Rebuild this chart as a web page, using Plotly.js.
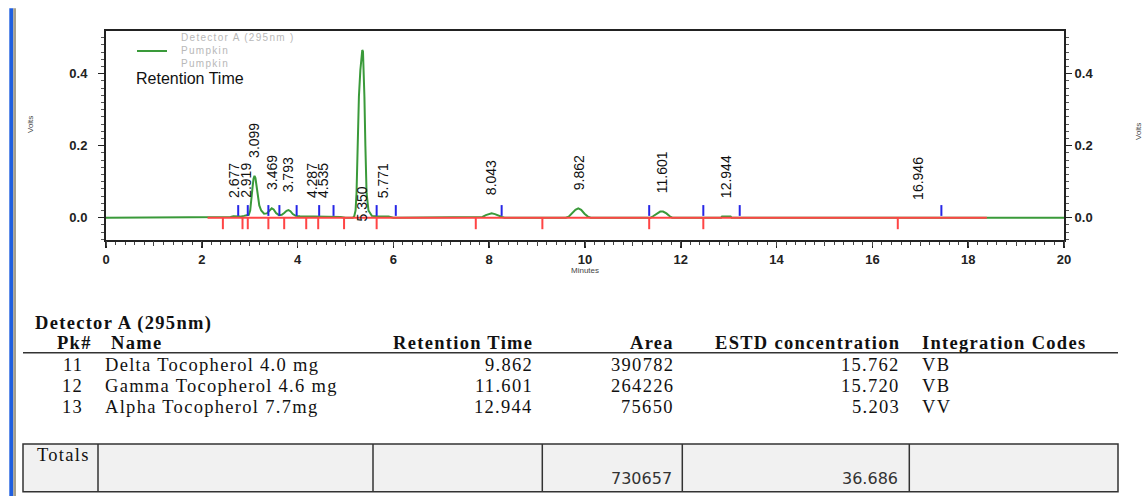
<!DOCTYPE html>
<html><head><meta charset="utf-8">
<script src="https://cdn.plot.ly/plotly-3.0.1.min.js"></script>
<style>
html,body{margin:0;padding:0;background:#fff;overflow:hidden}
#chart{width:1145px;height:496px}
text[style*="Liberation Serif"]{letter-spacing:1.3px}
text[style*="LegendGrey"]{letter-spacing:1.3px}
</style>
</head><body><div id="chart"></div>
<script>
// ---------- chromatogram data ----------
const timeMin = [0,2.55,2.60,2.66,2.72,2.80,2.88,2.93,2.98,3.01,3.04,3.06,3.08,3.10,3.12,3.14,3.17,3.20,3.24,3.30,3.36,3.41,3.46,3.50,3.55,3.61,3.67,3.72,3.77,3.81,3.85,3.90,3.96,4.05,4.30,4.55,4.80,4.90,5.00,5.15,5.18,5.21,5.23,5.255,5.28,5.31,5.335,5.35,5.365,5.38,5.395,5.415,5.44,5.48,5.55,5.65,5.90,6.00,7.80,7.86,7.93,8.00,8.05,8.12,8.20,8.27,8.32,9.60,9.66,9.73,9.80,9.86,9.92,9.99,10.06,10.12,11.37,11.42,11.50,11.57,11.63,11.70,11.77,11.82,12.84,12.86,13.04,13.06,20];
const signalV = [0,0,0.002,0.004,0.003,0.003,0.005,0.006,0.008,0.02,0.05,0.085,0.108,0.116,0.11,0.09,0.055,0.034,0.02,0.011,0.012,0.02,0.026,0.023,0.013,0.007,0.008,0.013,0.019,0.021,0.018,0.01,0.005,0.004,0.004,0.004,0.004,0.002,0,0,0.003,0.02,0.068,0.2,0.336,0.41,0.46,0.466,0.462,0.42,0.336,0.2,0.068,0.02,0.005,0.004,0.003,0,0,0.002,0.007,0.011,0.012,0.01,0.005,0.002,0,0,0.003,0.012,0.022,0.026,0.022,0.011,0.003,0,0,0.004,0.012,0.017,0.017,0.012,0.004,0,0,0.003,0.003,0,0];

const peakLabels = ['2.677','2.919','3.099','3.469','3.793','4.287','4.535','5.350','5.771','8.043','9.862','11.601','12.944','16.946'];
const peakApexV  = [0.004,0.006,0.116,0.026,0.021,0.004,0.004,0.466,0.004,0.012,0.026,0.017,0.003,0];
const labelAtBaseline = ['5.350'];

const baselineStartMin = 2.12, baselineEndMin = 18.39;
const peakStartEndMarks = [2.44,2.85,2.96,3.39,3.72,4.18,4.43,4.97,5.65,7.72,9.11,11.34,12.47,16.53];
const peakEventMarks    = [2.76,2.96,3.39,3.62,3.98,4.45,4.75,5.65,6.05,8.26,11.34,12.47,13.23,17.44];

const legendLines = ['Detector A (295nm )','Pumpkin','Pumpkin'];
const legendTitle = 'Retention Time';

// ---------- table data ----------
const detectorTitle = 'Detector A (295nm)';
const tableHeader = ['Pk#','Name','Retention Time','Area','ESTD concentration','Integration Codes'];
const pkNum = ['11','12','13'];
const compoundNames = ['Delta Tocopherol 4.0 mg','Gamma Tocopherol 4.6 mg','Alpha Tocopherol 7.7mg'];
const retTimes = ['9.862','11.601','12.944'];
const areas = ['390782','264226','75650'];
const estdConc = ['15.762','15.720','5.203'];
const intCodes = ['VB','VB','VV'];
const totalArea = '730657';
const totalConc = '36.686';

// ---------- layout helpers (pixel -> paper) ----------
const W=1145,H=496,L=106,R=81,T=31,B=256;
const PW=W-L-R, PH=H-T-B;
const X=p=>(p-L)/PW, Y=p=>(H-B-p)/PH;

const GREEN='#3a9a3a', RED='#ff4545', BLUE='#2626e6';
const serif='Liberation Serif, Times New Roman, serif';
const sans='Arial, Liberation Sans, sans-serif';

function segs(xs,y0,y1){const x=[],y=[];xs.forEach(t=>{x.push(t,t,null);y.push(y0,y1,null);});return {x,y};}
const redS=segs(peakStartEndMarks,0,-0.032);
const blueS=segs(peakEventMarks,0.005,0.035);

const traces=[
 {x:timeMin,y:signalV,mode:'lines',line:{color:GREEN,width:2},hoverinfo:'skip'},
 {x:[baselineStartMin,baselineEndMin],y:[0,0],mode:'lines',line:{color:RED,width:2},hoverinfo:'skip'},
 {x:redS.x,y:redS.y,mode:'lines',line:{color:RED,width:2},hoverinfo:'skip',connectgaps:false},
 {x:blueS.x,y:blueS.y,mode:'lines',line:{color:BLUE,width:2},hoverinfo:'skip',connectgaps:false},
 {x:[0],y:[0],xaxis:'x2',yaxis:'y2',mode:'markers',marker:{opacity:0},hoverinfo:'skip'}
];

const ann=[];
// peak labels
peakLabels.forEach((s,i)=>{
  const base=labelAtBaseline.includes(s);
  ann.push({x:parseFloat(s),y:base?0:peakApexV[i],xref:'x',yref:'y',text:s,textangle:-90,showarrow:false,
    xanchor:'center',yanchor:'bottom',yshift:base?-6:16,font:{family:sans,size:14,color:'#111'}});
});
// legend-like texts
ann.push({x:X(180),y:Y(50.5),xref:'paper',yref:'paper',text:legendLines.join('<br>'),align:'left',showarrow:false,borderpad:0,
  xanchor:'left',yanchor:'middle',font:{family:'LegendGrey, Arial, sans-serif',size:10,color:'#b8b8b8'}});
ann.push({x:X(135),y:Y(78),xref:'paper',yref:'paper',text:legendTitle,showarrow:false,borderpad:0,xanchor:'left',yanchor:'middle',font:{family:sans,size:16,color:'#111'}});
// axis titles (tiny)
ann.push({x:X(585),y:Y(270),xref:'paper',yref:'paper',text:'Minutes',showarrow:false,xanchor:'center',yanchor:'middle',font:{family:sans,size:8,color:'#444'}});
ann.push({x:X(30),y:Y(125),xref:'paper',yref:'paper',text:'Volts',textangle:-90,showarrow:false,xanchor:'center',yanchor:'middle',font:{family:sans,size:8,color:'#444'}});
ann.push({x:X(1138),y:Y(132),xref:'paper',yref:'paper',text:'Volts',textangle:-90,showarrow:false,xanchor:'center',yanchor:'middle',font:{family:sans,size:8,color:'#444'}});

// table
function cell(text,px,py,anchor,bold,fam,size,color){
  ann.push({x:X(px),y:Y(py),xref:'paper',yref:'paper',text:bold?'<b>'+text+'</b>':text,showarrow:false,borderpad:0,
    xanchor:anchor,yanchor:'middle',font:{family:fam||serif,size:size||19,color:color||'#111'}});
}
cell(detectorTitle,34,323,'left',true,serif,18.5);
const hdrX=[[93,'right'],[110,'left'],[534,'right'],[675,'right'],[901,'right'],[921,'left']];
tableHeader.forEach((h,i)=>cell(h,hdrX[i][0],343,hdrX[i][1],true,serif,18.5));
const rowY=[365,386,407];
const colX=[[84,'right'],[104,'left'],[534,'right'],[675,'right'],[901,'right'],[921,'left']];
pkNum.forEach((_,r)=>{
  const vals=[pkNum[r],compoundNames[r],retTimes[r],areas[r],estdConc[r],intCodes[r]];
  vals.forEach((v,c)=>cell(v,colX[c][0],rowY[r],colX[c][1],false,serif,18.5));
});
cell('Totals',36,455,'left',false,serif,18.5);
cell(totalArea,673,478,'right',false,'DejaVu Sans',16,'#333');
cell(totalConc,899,478,'right',false,'DejaVu Sans',16,'#333');

const shapes=[];
// left window border bar
shapes.push({type:'rect',xref:'paper',yref:'paper',x0:X(9.3),x1:X(13.3),y0:Y(8.3),y1:Y(496),fillcolor:'#1f5fe0',line:{width:0}});
shapes.push({type:'rect',xref:'paper',yref:'paper',x0:X(13.3),x1:X(16),y0:Y(8.3),y1:Y(496),fillcolor:'#a59f8c',line:{width:0}});
// legend line
shapes.push({type:'line',xref:'paper',yref:'paper',x0:X(137),x1:X(167),y0:Y(51),y1:Y(51),line:{color:GREEN,width:2}});
// table header rule
shapes.push({type:'line',xref:'paper',yref:'paper',x0:X(23),x1:X(1118),y0:Y(352.7),y1:Y(352.7),line:{color:'#333',width:1.5}});
// totals box
shapes.push({type:'rect',xref:'paper',yref:'paper',x0:X(23),x1:X(1118),y0:Y(444),y1:Y(491.7),fillcolor:'#f1f1f1',line:{color:'#333',width:1.5}});
[98,373,542.3,682.3,909.3].forEach(sx=>shapes.push({type:'line',xref:'paper',yref:'paper',x0:X(sx),x1:X(sx),y0:Y(444),y1:Y(491.7),line:{color:'#333',width:1.5}}));

const tickFont={family:sans,size:13,color:'#222',weight:'bold'};
const yr=[-0.062,0.5187];
const layout={
  width:W,height:H,margin:{l:L,r:R,t:T,b:B,pad:0},
  paper_bgcolor:'#fff',plot_bgcolor:'#fff',showlegend:false,
  xaxis:{range:[0,20],dtick:2,tick0:0,showgrid:false,zeroline:false,showline:true,mirror:true,linecolor:'#222',linewidth:2,
    ticks:'outside',ticklen:6,tickwidth:1.5,tickcolor:'#222',tickfont:tickFont,
    minor:{dtick:0.2,ticks:'outside',ticklen:3,tickwidth:1,tickcolor:'#444'}},
  xaxis2:{range:[0,20],overlaying:'x',dtick:1,tick0:0,showticklabels:false,showgrid:false,zeroline:false,showline:false,
    ticks:'outside',ticklen:4.5,tickwidth:1,tickcolor:'#444'},
  yaxis:{range:yr,dtick:0.2,tick0:0,tickformat:'.1f',showgrid:false,zeroline:false,showline:true,linecolor:'#222',linewidth:2,
    ticks:'outside',ticklen:6,tickwidth:1.5,tickcolor:'#222',tickfont:tickFont,ticklabelstandoff:8,
    minor:{dtick:0.02,ticks:'outside',ticklen:3,tickwidth:1,tickcolor:'#555'}},
  yaxis2:{range:yr,overlaying:'y',side:'right',dtick:0.2,tick0:0,tickformat:'.1f',showgrid:false,zeroline:false,showline:true,linecolor:'#222',linewidth:2,
    ticks:'outside',ticklen:6,tickwidth:1.5,tickcolor:'#222',tickfont:tickFont,ticklabelstandoff:0,
    minor:{dtick:0.02,ticks:'outside',ticklen:3,tickwidth:1,tickcolor:'#555'}},
  annotations:ann,shapes:shapes
};
Plotly.newPlot('chart',traces,layout,{staticPlot:true,displayModeBar:false});
</script>
</body></html>
